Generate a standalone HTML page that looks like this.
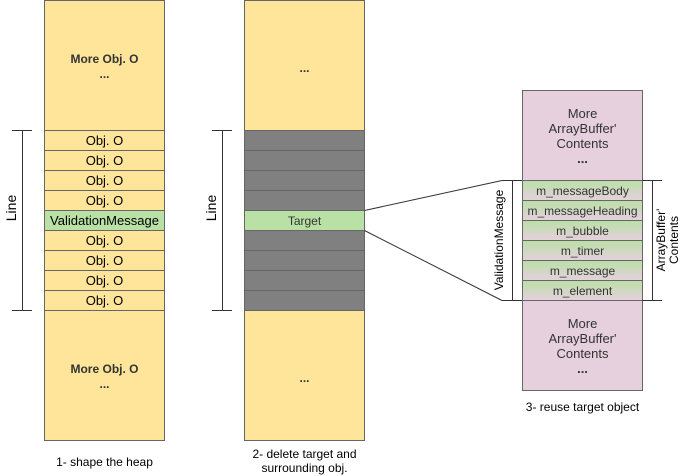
<!DOCTYPE html>
<html><head><meta charset="utf-8"><style>
html,body{margin:0;padding:0;background:#fff;}
svg{display:block;font-family:"Liberation Sans",sans-serif;}
</style></head><body>
<svg width="681" height="476" viewBox="0 0 681 476" xmlns="http://www.w3.org/2000/svg">
<defs>
<linearGradient id="g" x1="0" y1="0" x2="0" y2="1">
<stop offset="0" stop-color="#b9e0a5"/><stop offset="1" stop-color="#e6d0de"/>
</linearGradient>
</defs>
<g stroke="#666" stroke-width="1">
<!-- col1 -->
<rect x="44.5" y="0.5" width="120" height="130" fill="#ffe599"/>
<rect x="44.5" y="310.5" width="120" height="130" fill="#ffe599"/>
<rect x="44.5" y="130.5" width="120" height="20" fill="#ffe599"/>
<rect x="44.5" y="150.5" width="120" height="20" fill="#ffe599"/>
<rect x="44.5" y="170.5" width="120" height="20" fill="#ffe599"/>
<rect x="44.5" y="190.5" width="120" height="20" fill="#ffe599"/>
<rect x="44.5" y="210.5" width="120" height="20" fill="#b9e0a5"/>
<rect x="44.5" y="230.5" width="120" height="20" fill="#ffe599"/>
<rect x="44.5" y="250.5" width="120" height="20" fill="#ffe599"/>
<rect x="44.5" y="270.5" width="120" height="20" fill="#ffe599"/>
<rect x="44.5" y="290.5" width="120" height="20" fill="#ffe599"/>
<!-- col2 -->
<rect x="244.5" y="0.5" width="120" height="130" fill="#ffe599"/>
<rect x="244.5" y="310.5" width="120" height="130" fill="#ffe599"/>
<rect x="244.5" y="130.5" width="120" height="20" fill="#808080"/>
<rect x="244.5" y="150.5" width="120" height="20" fill="#808080"/>
<rect x="244.5" y="170.5" width="120" height="20" fill="#808080"/>
<rect x="244.5" y="190.5" width="120" height="20" fill="#808080"/>
<rect x="244.5" y="210.5" width="120" height="20" fill="#b9e0a5"/>
<rect x="244.5" y="230.5" width="120" height="20" fill="#808080"/>
<rect x="244.5" y="250.5" width="120" height="20" fill="#808080"/>
<rect x="244.5" y="270.5" width="120" height="20" fill="#808080"/>
<rect x="244.5" y="290.5" width="120" height="20" fill="#808080"/>
<!-- col3 -->
<rect x="522.5" y="90.5" width="120" height="90" fill="#e6d0de"/>
<rect x="522.5" y="300.5" width="120" height="90" fill="#e6d0de"/>
<rect x="522.5" y="180.5" width="120" height="20" fill="url(#g)"/>
<rect x="522.5" y="200.5" width="120" height="20" fill="url(#g)"/>
<rect x="522.5" y="220.5" width="120" height="20" fill="url(#g)"/>
<rect x="522.5" y="240.5" width="120" height="20" fill="url(#g)"/>
<rect x="522.5" y="260.5" width="120" height="20" fill="url(#g)"/>
<rect x="522.5" y="280.5" width="120" height="20" fill="url(#g)"/>
</g>
<g stroke="#333" stroke-width="1" fill="none">
<path d="M12 130.5H32M22.5 130.5V310.5M12 310.5H32"/>
<path d="M212 130.5H232M222.5 130.5V310.5M212 310.5H232"/>
<path d="M502 180.5H522M512.5 180.5V300.5M502 300.5H522"/>
<path d="M642 180.5H662M652.5 180.5V300.5M642 300.5H662"/>
<path d="M364.5 210.5L502 180.5"/>
<path d="M364.5 230.5L502 300.5"/>
</g>
<g font-size="13" fill="#000" text-anchor="middle">
<text x="104.5" y="225">ValidationMessage</text>
<text x="104.5" y="165">Obj. O</text>
<text x="104.5" y="185">Obj. O</text>
<text x="104.5" y="205">Obj. O</text>
<text x="104.5" y="145">Obj. O</text>
<text x="104.5" y="245">Obj. O</text>
<text x="104.5" y="265">Obj. O</text>
<text x="104.5" y="285">Obj. O</text>
<text x="104.5" y="305">Obj. O</text>
</g>
<g font-size="12" font-weight="bold" fill="#333" text-anchor="middle">
<text x="104.5" y="63">More Obj. O</text>
<text x="104.5" y="78">...</text>
<text x="104.5" y="373">More Obj. O</text>
<text x="104.5" y="388">...</text>
<text x="304.5" y="72">...</text>
<text x="304.5" y="382">...</text>
</g>
<g font-size="12" fill="#333" text-anchor="middle">
<text x="304.5" y="225">Target</text>
<text x="582.5" y="195">m_messageBody</text>
<text x="582.5" y="215">m_messageHeading</text>
<text x="582.5" y="235">m_bubble</text>
<text x="582.5" y="255">m_timer</text>
<text x="582.5" y="275">m_message</text>
<text x="582.5" y="295">m_element</text>
</g>
<g font-size="13" fill="#333" text-anchor="middle">
<text x="582.5" y="118">More</text>
<text x="582.5" y="133">ArrayBuffer'</text>
<text x="582.5" y="148">Contents</text>
<text x="582.5" y="163" font-weight="bold">...</text>
<text x="582.5" y="328">More</text>
<text x="582.5" y="343">ArrayBuffer'</text>
<text x="582.5" y="358">Contents</text>
<text x="582.5" y="373" font-weight="bold">...</text>
</g>
<g font-size="14" fill="#000" text-anchor="middle">
<text transform="translate(16 208) rotate(-90)">Line</text>
<text transform="translate(216 208) rotate(-90)">Line</text>
</g>
<g font-size="12" fill="#000" text-anchor="middle">
<text transform="translate(503 240) rotate(-90)">ValidationMessage</text>
<text transform="translate(665 240) rotate(-90)">ArrayBuffer'</text>
<text transform="translate(678 240) rotate(-90)">Contents</text>
<text x="104.5" y="466">1- shape the heap</text>
<text x="304.5" y="458">2- delete target and</text>
<text x="304.5" y="472">surrounding obj.</text>
<text x="582.5" y="411">3- reuse target object</text>
</g>
</svg>
</body></html>
